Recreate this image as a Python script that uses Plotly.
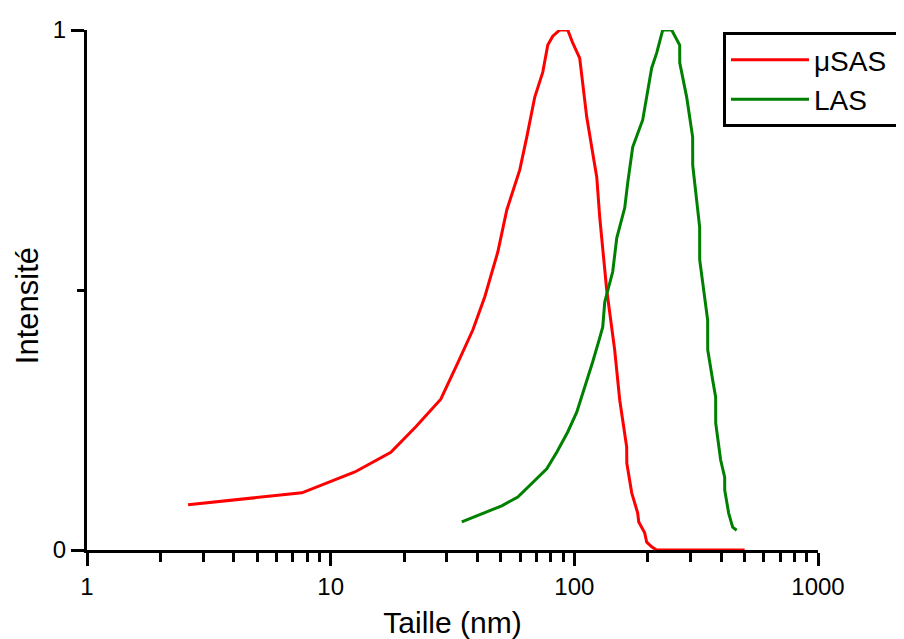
import plotly.graph_objects as go

# μSAS (red) series
usas_x = [2.60, 7.62, 12.57, 17.66, 22.36, 28.31, 33.24, 38.31, 42.91, 48.52, 52.82,
          59.71, 63.80, 68.81, 74.22, 77.81, 81.54, 87.13, 93.95, 98.49, 105.2, 112.4,
          119.0, 123.6, 127.1, 135.8, 146.4, 153.6, 164.0, 164.2, 172.0, 182.0, 183.8,
          194.4, 198.2, 207.7, 217.8, 500.0]
usas_y = [0.087, 0.110, 0.150, 0.188, 0.237, 0.290, 0.360, 0.423, 0.487, 0.573, 0.654,
          0.731, 0.794, 0.871, 0.919, 0.971, 0.988, 1.0, 1.0, 0.975, 0.946, 0.833,
          0.763, 0.717, 0.640, 0.500, 0.385, 0.288, 0.198, 0.167, 0.110, 0.071, 0.054,
          0.033, 0.015, 0.006, 0.0, 0.0]

# LAS (green) series
las_x = [34.52, 50.38, 58.61, 77.07, 84.69, 93.95, 102.3, 110.3, 119.0, 127.1, 130.8,
         133.3, 143.7, 149.3, 161.0, 165.6, 173.6, 190.8, 207.7, 217.8, 230.5, 250.9,
         270.6, 270.8, 289.1, 305.9, 306.1, 326.8, 327.0, 352.5, 352.7, 369.6, 380.2,
         380.4, 398.6, 414.0, 414.2, 429.9, 442.2, 446.4, 463.6]
las_y = [0.054, 0.085, 0.102, 0.156, 0.188, 0.227, 0.265, 0.312, 0.362, 0.408, 0.429,
         0.477, 0.535, 0.600, 0.658, 0.706, 0.775, 0.827, 0.927, 0.956, 1.0, 1.0,
         0.971, 0.937, 0.871, 0.794, 0.740, 0.621, 0.558, 0.442, 0.385, 0.327, 0.294,
         0.244, 0.173, 0.140, 0.115, 0.071, 0.052, 0.044, 0.038]

series_names = ["μSAS", "LAS"]

x_major = [1, 10, 100, 1000]
x_major_labels = ["1", "10", "100", "1000"]
x_minor = [m * d for d in (1, 10, 100) for m in range(2, 10)]
y_major = [0, 1]
y_major_labels = ["0", "1"]
y_minor = [0.5]

FONT = "Liberation Sans, Arial, sans-serif"
PAD = "\u00a0"

fig = go.Figure()
fig.add_trace(go.Scatter(x=usas_x, y=usas_y, mode="lines", name=series_names[0] + PAD,
                         line=dict(color="#ff0000", width=3)))
fig.add_trace(go.Scatter(x=las_x, y=las_y, mode="lines", name=series_names[1] + PAD,
                         line=dict(color="#008000", width=3)))

fig.update_layout(
    width=896, height=631,
    margin=dict(l=79, r=86, t=22, b=89, autoexpand=False),
    paper_bgcolor="white", plot_bgcolor="white",
    font=dict(family=FONT, size=25, color="black"),
    showlegend=True,
    legend=dict(x=0.870, y=0.996, xanchor="left", yanchor="top",
                bordercolor="black", borderwidth=3, bgcolor="white",
                font=dict(size=28), tracegroupgap=0, itemwidth=78),
    xaxis=dict(type="log", range=[0, 3], showgrid=False, zeroline=False,
               showline=True, linecolor="black", linewidth=3, automargin=False,
               tickmode="array", tickvals=x_major, ticktext=x_major_labels,
               ticks="outside", ticklen=13, tickwidth=3, tickcolor="black",
               minor=dict(tickmode="array", tickvals=x_minor, ticks="outside",
                          ticklen=9, tickwidth=3, tickcolor="black", showgrid=False),
               title=dict(text="Taille (nm)", standoff=17),
               tickfont=dict(size=24)),
    yaxis=dict(range=[0, 1], showgrid=False, zeroline=False,
               showline=True, linecolor="black", linewidth=3, automargin=False,
               tickmode="array", tickvals=y_major, ticktext=y_major_labels,
               ticks="outside", ticklen=13, tickwidth=3, tickcolor="black",
               minor=dict(tickmode="array", tickvals=y_minor, ticks="outside",
                          ticklen=7, tickwidth=3, tickcolor="black", showgrid=False),
               tickfont=dict(size=24)),
    annotations=[dict(text="Intensité", textangle=-90, xref="paper", yref="paper",
                      x=-0.082, y=0.469, xanchor="center", yanchor="middle",
                      borderpad=0, showarrow=False,
                      font=dict(family=FONT, size=31, color="black"))],
)

fig.write_html("out.html")
